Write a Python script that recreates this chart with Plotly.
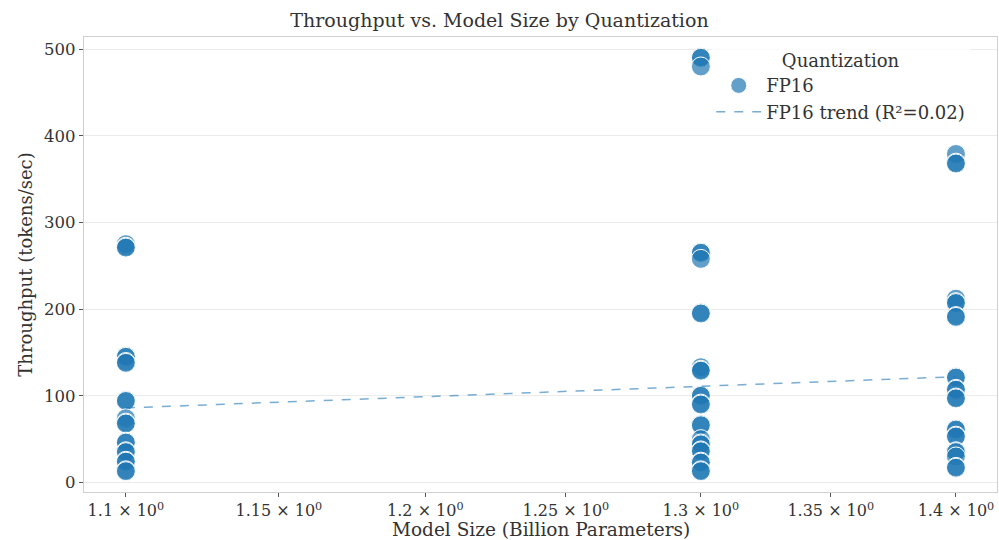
import plotly.graph_objects as go

# Model sizes (billion parameters) and measured throughput (tokens/sec), FP16 runs
size_1_1 = [1.1] * 20
tput_1_1 = [275, 272, 271, 146, 145, 139, 138, 95, 94, 74, 69, 68, 47, 46, 36, 35, 25, 24, 14, 13]

size_1_3 = [1.3] * 26
tput_1_3 = [491, 490, 480, 266, 265, 258, 196, 195, 133, 130, 129, 101, 100, 91, 90, 67, 66,
            50, 45, 44, 37, 36, 24, 23, 14, 13]

size_1_4 = [1.4] * 23
tput_1_4 = [379, 369, 368, 212, 208, 207, 192, 191, 122, 121, 108, 107, 98, 97, 62, 61,
            54, 53, 36, 35, 30, 18, 17]

sizes = size_1_1 + size_1_3 + size_1_4
throughput = tput_1_1 + tput_1_3 + tput_1_4

# Linear trend for FP16, evaluated at the smallest and largest model size
trend_x = [1.1, 1.4]
trend_y = [86, 122]
trend_r2 = 0.02

tick_vals = [1.1, 1.15, 1.2, 1.25, 1.3, 1.35, 1.4]
tick_text = [f"{v:g} × 10<sup>0</sup>" for v in tick_vals]

FONT = "DejaVu Serif"
TEXT = "#333333"
BLUE = "rgba(31,119,180,0.7)"

fig = go.Figure()
fig.add_trace(go.Scatter(
    x=sizes, y=throughput, mode="markers", name="FP16",
    marker=dict(size=19, color=BLUE, line=dict(color="white", width=1)),
))
fig.add_trace(go.Scatter(
    x=trend_x, y=trend_y, mode="lines",
    name=f"FP16 trend (R²={trend_r2:.2f})",
    line=dict(color="rgba(31,119,180,0.6)", width=1.5, dash="dash"),
))

fig.update_layout(
    width=999, height=540,
    margin=dict(l=84, r=2, t=37, b=48),
    paper_bgcolor="white", plot_bgcolor="white",
    font=dict(family=FONT, color=TEXT, size=16),
    title=dict(text="Throughput vs. Model Size by Quantization", x=0.5, xanchor="center",
               y=1 - 20 / 540, yref="container", yanchor="middle",
               font=dict(size=19, family=FONT, color=TEXT)),
    legend=dict(
        title=dict(text="Quantization", side="top center", font=dict(size=18, family=FONT)),
        x=0.687, xanchor="left", y=0.985, yanchor="top",
        bgcolor="rgba(255,255,255,0.8)", borderwidth=0,
        itemwidth=45,
        font=dict(size=18, family=FONT, color=TEXT),
    ),
    showlegend=True,
    annotations=[dict(
        text="Model Size (Billion Parameters)", xref="paper", yref="paper",
        x=0.5, y=-(529 - 492) / 455, xanchor="center", yanchor="middle",
        showarrow=False, font=dict(size=18.5, family=FONT, color=TEXT),
    )],
)

fig.update_xaxes(
    type="log", range=[0.03611, 0.15131],
    tickvals=tick_vals, ticktext=tick_text,
    showgrid=False, zeroline=False,
    showline=True, linecolor="#d0d0d0", linewidth=1.2, mirror=True,
    ticks="outside", ticklen=4, tickcolor="#555555",
    tickfont=dict(size=16, family=FONT, color=TEXT),
    automargin=False,
)
fig.update_yaxes(
    range=[-11, 514], tickvals=[0, 100, 200, 300, 400, 500],
    showgrid=True, gridcolor="#ebebeb", gridwidth=1, zeroline=False,
    showline=True, linecolor="#d0d0d0", linewidth=1.2, mirror=True,
    ticks="outside", ticklen=4, tickcolor="#555555",
    tickfont=dict(size=16.5, family=FONT, color=TEXT),
    automargin=False,
    title=dict(text="Throughput (tokens/sec)", standoff=6,
               font=dict(size=18, family=FONT, color=TEXT)),
)

fig.write_html("out.html")
